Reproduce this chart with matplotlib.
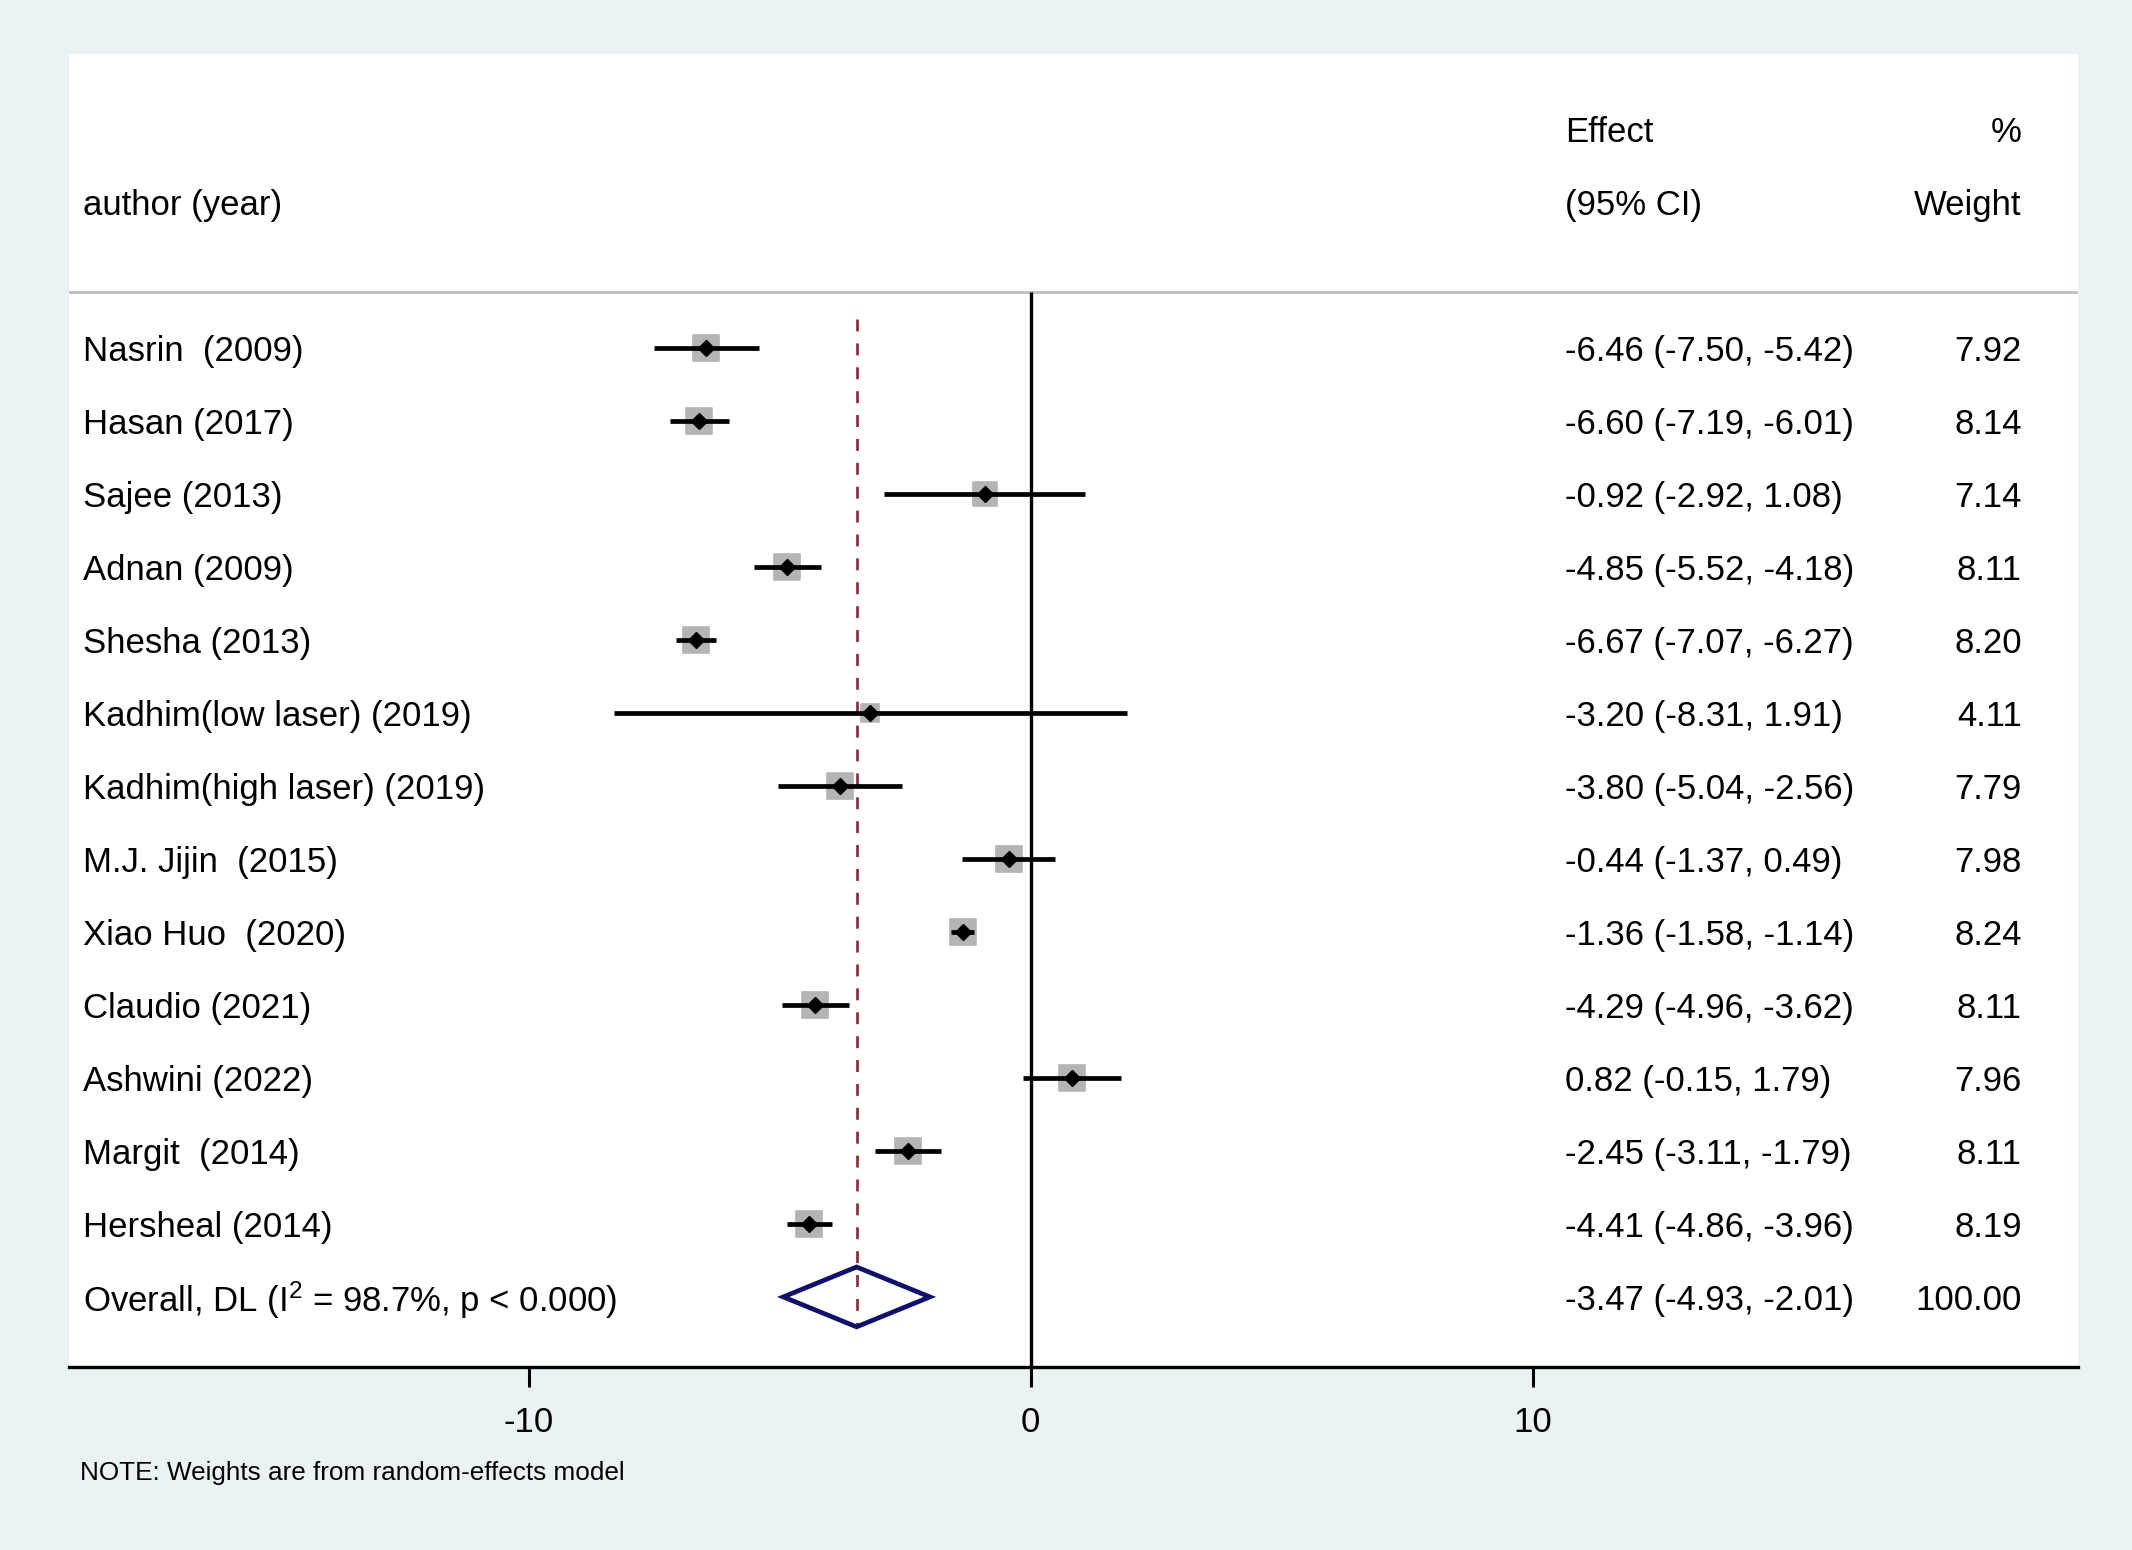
import matplotlib
matplotlib.use("Agg")
import matplotlib.pyplot as plt
from matplotlib.markers import MarkerStyle
from matplotlib.patches import Polygon

plt.rcParams['font.family'] = ['Liberation Sans', 'DejaVu Sans']
plt.rcParams['mathtext.fontset'] = 'custom'
plt.rcParams['mathtext.rm'] = 'Liberation Sans'
plt.rcParams['mathtext.it'] = 'Liberation Sans'
plt.rcParams['axes.unicode_minus'] = False

# ---- data ----
studies = ["Nasrin  (2009)", "Hasan (2017)", "Sajee (2013)", "Adnan (2009)",
           "Shesha (2013)", "Kadhim(low laser) (2019)", "Kadhim(high laser) (2019)",
           "M.J. Jijin  (2015)", "Xiao Huo  (2020)", "Claudio (2021)",
           "Ashwini (2022)", "Margit  (2014)", "Hersheal (2014)"]
effect = [-6.46, -6.60, -0.92, -4.85, -6.67, -3.20, -3.80, -0.44, -1.36, -4.29, 0.82, -2.45, -4.41]
ci_low = [-7.50, -7.19, -2.92, -5.52, -7.07, -8.31, -5.04, -1.37, -1.58, -4.96, -0.15, -3.11, -4.86]
ci_high = [-5.42, -6.01, 1.08, -4.18, -6.27, 1.91, -2.56, 0.49, -1.14, -3.62, 1.79, -1.79, -3.96]
weights = [7.92, 8.14, 7.14, 8.11, 8.20, 4.11, 7.79, 7.98, 8.24, 8.11, 7.96, 8.11, 8.19]
overall_label = "Overall, DL (I$^{2}$ = 98.7%, p < 0.000)"
overall_effect = -3.47
overall_low = -4.93
overall_high = -2.01
overall_weight = 100.00
xticks = [-10, 0, 10]
note = "NOTE: Weights are from random-effects model"

# ---- figure ----
W, H = 2132, 1550
fig = plt.figure(figsize=(W / 100, H / 100), dpi=100)
fig.patch.set_facecolor('#EAF2F3')
ax = fig.add_axes([69.4 / W, 1 - 1367 / H, (2078 - 69.4) / W, (1367 - 54.4) / H])
ax.set_facecolor('white')

ax.set_xlim(-19.15, 20.86)
ax.set_ylim(13.96, -4.02)

fs = 25
gray = '#B4B4B4'
n = len(studies)
dy = 0.045  # small downward offset of text rows

# header line and zero line
ax.axhline(-0.76, color='#C0C0C0', lw=2.0, zorder=1)
ax.plot([0, 0], [-0.76, 13.96], color='black', lw=2.4, zorder=2, solid_capstyle='butt')
# overall effect dashed line
ax.plot([overall_effect, overall_effect], [-0.39, n + 0.41], color='#8B3342', lw=2.0,
        dashes=(4.3, 4.3), zorder=3)

sq = MarkerStyle('s', joinstyle='round')
for i in range(n):
    ax.plot([ci_low[i], ci_high[i]], [i, i], color='black', lw=3.4, zorder=4,
            solid_capstyle='butt')
    side_px = 9.6 * weights[i] ** 0.5
    ax.plot(effect[i], i, marker=sq, ms=side_px * 0.72 - 1.2, color=gray,
            mec=gray, mew=1.2, zorder=3, linestyle='none')
    ax.plot(effect[i], i, marker='D', ms=8.4, color='black', zorder=5, linestyle='none')
    ax.text(-18.88, i + dy, studies[i], fontsize=fs, va='center', ha='left')
    ax.text(10.64, i + dy, f"{effect[i]:.2f} ({ci_low[i]:.2f}, {ci_high[i]:.2f})",
            fontsize=fs, va='center', ha='left')
    ax.text(19.74, i + dy, f"{weights[i]:.2f}", fontsize=fs, va='center', ha='right')

# overall diamond
dh = 0.41
diamond = Polygon([[overall_low, n], [overall_effect, n - dh], [overall_high, n],
                   [overall_effect, n + dh]], closed=True, fill=False,
                  edgecolor='#10106A', lw=3.4, zorder=4, joinstyle='miter')
ax.add_patch(diamond)
ax.text(-18.88, n + dy, overall_label, fontsize=fs, va='center', ha='left')
ax.text(10.64, n + dy, f"{overall_effect:.2f} ({overall_low:.2f}, {overall_high:.2f})",
        fontsize=fs, va='center', ha='left')
ax.text(19.74, n + dy, f"{overall_weight:.2f}", fontsize=fs, va='center', ha='right')

# headers
ax.text(10.64, -3.0 + dy, "Effect", fontsize=fs, va='center', ha='left')
ax.text(19.74, -3.0 + dy, "%", fontsize=fs, va='center', ha='right')
ax.text(-18.88, -2.0 + dy, "author (year)", fontsize=fs, va='center', ha='left')
ax.text(10.64, -2.0 + dy, "(95% CI)", fontsize=fs, va='center', ha='left')
ax.text(19.74, -2.0 + dy, "Weight", fontsize=fs, va='center', ha='right')

# axes styling
for s in ['top', 'left', 'right']:
    ax.spines[s].set_visible(False)
ax.spines['bottom'].set_linewidth(2.4)
ax.spines['bottom'].set_color('black')
ax.set_yticks([])
ax.set_xticks(xticks)
ax.set_xticklabels([str(t) for t in xticks])
ax.tick_params(axis='x', direction='out', length=14.4, width=2.2, pad=14,
               labelsize=fs, colors='black')

fig.text(80 / W, 1 - 1473 / H, note, fontsize=18.8, va='center', ha='left')

fig.savefig('out.png', dpi=100, facecolor=fig.get_facecolor())
